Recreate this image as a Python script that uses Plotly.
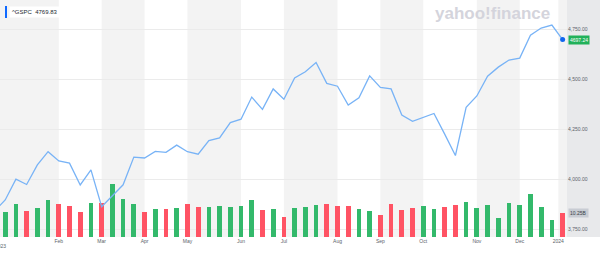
import plotly.graph_objects as go

# ---- data (weekly, week index -1 = last week of 2022) ----
closes = [3839.50, 3895.08, 3999.09, 3972.61, 4070.56, 4136.48, 4090.46, 4079.09, 3970.04,
          4045.64, 3861.59, 3916.64, 3970.99, 4109.31, 4105.02, 4137.64, 4133.52, 4169.48,
          4136.25, 4124.08, 4191.98, 4205.45, 4282.37, 4298.86, 4409.59, 4348.33, 4450.38,
          4398.95, 4505.42, 4536.34, 4582.23, 4478.03, 4464.05, 4369.71, 4405.71, 4515.77,
          4457.49, 4450.32, 4320.06, 4288.05, 4308.50, 4327.78, 4224.16, 4117.37, 4358.34,
          4415.24, 4514.02, 4559.34, 4594.63, 4604.37, 4719.19, 4754.63, 4769.83, 4697.24]
close_weeks = list(range(-1, 53))

volumes_b = [10.68, 13.97, 10.98, 12.39, 15.80, 13.97, 13.11, 10.68, 14.39, 14.39, 22.81,
             16.40, 13.97, 10.68, 11.96, 11.96, 12.56, 14.09, 12.68, 12.98, 13.11, 12.68,
             13.41, 15.80, 11.53, 12.13, 8.54, 12.39, 12.94, 13.67, 14.22, 13.24, 13.11,
             12.09, 11.23, 9.40, 14.09, 11.53, 12.39, 13.11, 11.96, 12.81, 13.54, 14.82,
             12.51, 13.67, 8.11, 14.39, 13.67, 18.36, 12.81, 7.39, 10.25]
volume_weeks = list(range(0, 53))

month_start_weeks = [5, 9, 13, 17, 22, 26, 31, 35, 39, 44, 48, 51.6]
month_labels = ["Feb", "Mar", "Apr", "May", "Jun", "Jul", "Aug", "Sep", "Oct", "Nov", "Dec", "2024"]
first_label = "2023"

price_ticks = [3750, 4000, 4250, 4500, 4750]
price_tick_text = ["3,750.00", "4,000.00", "4,250.00", "4,500.00", "4,750.00"]

symbol = "^GSPC"
header_value = "4769.83"
last_price = closes[-1]
last_volume = volumes_b[-1]

# ---- styling ----
W, H = 600, 260
ML, MR, MT, MB = 0, 33, 0, 23
PW, PH = W - ML - MR, H - MT - MB
X_RANGE = [-0.485, 52.41]
FONT = "Liberation Sans, Arial, sans-serif"
GREEN = "#33b96b"
RED = "#ff5364"
LINE = "#78b3f6"
TXT = "#5b636a"

def px_x(p):
    return p / PW

def px_y(p):
    return 1 - p / PH

bar_colors = []
for k in range(len(volume_weeks)):
    bar_colors.append(GREEN if closes[k + 1] >= closes[k] else RED)

fig = go.Figure()
fig.add_trace(go.Bar(x=volume_weeks, y=volumes_b, marker_color=bar_colors,
                     marker_line_width=0, width=0.44, yaxis="y", hoverinfo="skip"))
fig.add_trace(go.Scatter(x=close_weeks, y=closes, mode="lines",
                         line=dict(color=LINE, width=1.3), yaxis="y2", hoverinfo="skip"))
fig.add_trace(go.Scatter(x=[close_weeks[-1]], y=[last_price], mode="markers",
                         marker=dict(color="#1166ee", size=5), yaxis="y2", hoverinfo="skip"))

shapes = []
bounds = [X_RANGE[0]] + month_start_weeks + [X_RANGE[1]]
for k in range(len(bounds) - 1):
    if k % 2 == 0:
        shapes.append(dict(type="rect", xref="x", yref="paper", x0=bounds[k], x1=bounds[k + 1],
                           y0=0, y1=1, fillcolor="#f3f3f3", line_width=0, layer="below"))
# right axis strip
shapes.append(dict(type="rect", xref="paper", yref="paper", x0=1, x1=1 + MR / PW + 0.01,
                   y0=0, y1=1, fillcolor="#e8e9eb", line_width=0, layer="below"))
# legend marker bar
shapes.append(dict(type="rect", xref="paper", yref="paper", x0=px_x(5), x1=px_x(7),
                   y0=px_y(18), y1=px_y(6), fillcolor="#0f69ff", line_width=0, layer="above"))

annotations = [
    dict(xref="paper", yref="paper", x=px_x(9), y=px_y(12), xanchor="left", yanchor="middle",
         text=f"{symbol}  {header_value}", showarrow=False,
         font=dict(family=FONT, size=6, color="#232a31"), bgcolor="white", borderpad=2),
    dict(xref="paper", yref="paper", x=px_x(492), y=px_y(13), xanchor="center", yanchor="middle",
         text="<b>yahoo!finance</b>", showarrow=False,
         font=dict(family=FONT, size=17, color="#d4d4dc")),
    dict(xref="paper", yref="y2", x=1, y=last_price, xanchor="left", yanchor="middle",
         xshift=1, text=f"{last_price:.2f}", showarrow=False, bgcolor="#21b15a", borderpad=1,
         font=dict(family=FONT, size=5, color="white")),
    dict(xref="paper", yref="y", x=1, y=last_volume, xanchor="left", yanchor="middle",
         xshift=1, text=f"{last_volume:.2f}B", showarrow=False, bgcolor="#c8ccd3", borderpad=1,
         font=dict(family=FONT, size=5, color="#3a3f45")),
    dict(xref="paper", yref="paper", x=0, y=0, xanchor="center", yanchor="top", yshift=-4,
         text=first_label, showarrow=False, font=dict(family=FONT, size=5, color=TXT)),
]

fig.update_layout(
    width=W, height=H, margin=dict(l=ML, r=MR, t=MT, b=MB),
    paper_bgcolor="white", plot_bgcolor="white", showlegend=False, bargap=0,
    shapes=shapes, annotations=annotations,
    xaxis=dict(range=X_RANGE, tickvals=month_start_weeks, ticktext=month_labels,
               showgrid=False, zeroline=False, showline=False, ticks="",
               tickfont=dict(family=FONT, size=5, color=TXT), ticklabeloverflow="allow"),
    yaxis=dict(range=[0, 101.2], visible=False, showgrid=False, zeroline=False),
    yaxis2=dict(range=[3710, 4895], overlaying="y", side="right", tickvals=price_ticks,
                ticktext=price_tick_text, showgrid=True, gridcolor="#ebebeb", gridwidth=1,
                zeroline=False, showline=False, ticks="",
                tickfont=dict(family=FONT, size=5, color=TXT)),
)

fig.write_html("out.html")
